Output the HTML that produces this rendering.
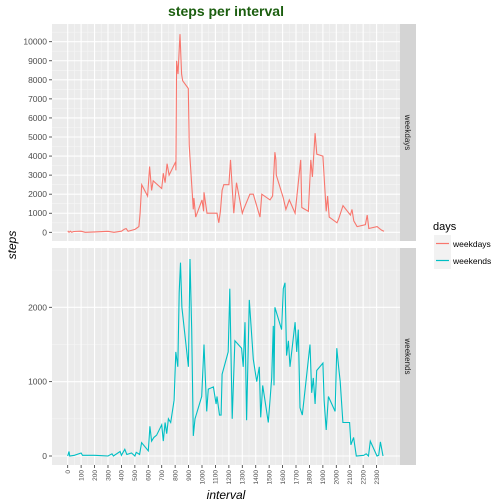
<!DOCTYPE html>
<html><head><meta charset="utf-8"><style>
body{margin:0;background:#fff;}
svg{display:block;font-family:"Liberation Sans",sans-serif;}
</style></head><body>
<svg id="c" width="504" height="504"></svg>
<script>
const wdIntervals=[0,10,20,30,45,100,130,200,300,345,400,420,435,450,500,510,530,539,551,595,610,625,637,700,712,725,740,755,804,806,811,821,836,848,856,898,905,911,935,940,953,1000,1012,1015,1037,1112,1125,1137,1150,1162,1200,1212,1237,1257,1300,1310,1357,1382,1432,1445,1506,1526,1543,1550,1553,1605,1625,1650,1693,1717,1735,1743,1792,1810,1822,1842,1855,1900,1925,1935,1947,2005,2017,2050,2105,2117,2130,2155,2217,2230,2242,2304,2330,2340,2355];
const wdSteps=[80,0,60,0,40,60,0,20,50,0,60,150,200,50,150,200,300,1000,2500,1900,3450,2200,2700,2300,3100,2600,3600,3000,3700,3250,9000,8300,10400,8300,7950,7550,4600,3900,1200,1800,800,1700,1100,2100,1000,1000,500,1100,2200,2500,2500,3800,1000,2600,1000,1200,2000,2000,800,2000,1700,1900,4200,3800,3000,1800,1200,1700,1000,2600,3800,1300,1100,3800,2900,5200,4100,4000,1100,1900,800,500,700,1400,900,1200,600,300,400,900,200,300,150,100,50];
const weIntervals=[0,10,15,50,100,110,200,300,330,340,390,400,425,440,475,500,510,535,550,600,612,625,642,662,700,712,725,737,750,767,792,805,820,830,840,850,899,911,923,935,948,998,1015,1035,1047,1085,1105,1112,1130,1142,1150,1195,1207,1225,1245,1295,1307,1320,1332,1352,1382,1407,1427,1437,1452,1494,1519,1531,1536,1543,1593,1605,1618,1630,1643,1655,1693,1705,1717,1730,1747,1804,1817,1829,1842,1854,1900,1909,1925,1941,1991,2004,2017,2029,2049,2099,2109,2129,2149,2204,2223,2240,2253,2303,2316,2328,2348];
const weSteps=[0,60,0,10,40,10,10,0,30,0,60,10,90,20,40,0,50,20,180,70,400,200,250,280,420,200,450,300,500,450,750,1400,1200,2200,2600,2000,1200,2650,1700,270,500,800,1500,600,900,930,700,800,550,550,1100,1400,2250,500,1550,1450,1200,1800,480,2100,1300,1000,1200,520,950,450,1050,1750,950,2000,1700,2250,2330,1350,1550,1200,1800,1400,1700,650,550,1500,850,1050,700,1150,1250,750,350,800,600,1450,1200,1000,450,450,150,250,0,10,30,0,200,0,10,190,0];
const yTicksTop=[0,1000,2000,3000,4000,5000,6000,7000,8000,9000,10000];
const yTicksBot=[0,1000,2000];
const xTicks=[0,100,200,300,400,500,600,700,800,900,1000,1100,1200,1300,1400,1500,1600,1700,1800,1900,2000,2100,2200,2300];

const NS="http://www.w3.org/2000/svg";
const svg=document.getElementById('c');
function el(t,a,p){const e=document.createElementNS(NS,t);for(const k in a)e.setAttribute(k,a[k]);(p||svg).appendChild(e);return e;}
const PL=52,PR=400;
const x=v=>67.7+v*0.1343;
const yTop=v=>232.3-v*0.01906;
const yBot=v=>456-v*0.07435;

function panel(top,bot,ticks,ys,minorStep,strip,name){
  const g=el('g',{});
  
  
  el('rect',{x:PL,y:top,width:PR-PL,height:bot-top,fill:'#EBEBEB'},g);
  for(let v=50;v<2600;v+=100){const px=x(v);if(px>PL&&px<PR)el('line',{x1:px,x2:px,y1:top,y2:bot,stroke:'#F5F5F5','stroke-width':0.6},g);}
  for(let v=-minorStep/2;v<=ticks[ticks.length-1]+minorStep;v+=minorStep){const py=ys(v);if(py>top&&py<bot)el('line',{x1:PL,x2:PR,y1:py,y2:py,stroke:'#F5F5F5','stroke-width':0.6},g);}
  xTicks.forEach(v=>el('line',{x1:x(v),x2:x(v),y1:top,y2:bot,stroke:'#fff','stroke-width':1.1},g));
  ticks.forEach(v=>{const py=ys(v);
    el('line',{x1:PL,x2:PR,y1:py,y2:py,stroke:'#fff','stroke-width':1.1},g);
    el('line',{x1:PL-3,x2:PL,y1:py,y2:py,stroke:'#333','stroke-width':0.8},g);
    const t=el('text',{x:PL-5,y:py+3,'text-anchor':'end','font-size':8.5,fill:'#4D4D4D'},g);t.textContent=v;
    
    
  });
  el('rect',{x:PR,y:top,width:16,height:bot-top,fill:'#D4D4D4'},g);
  const cy=(top+bot)/2;
  const st=el('text',{x:PR+8,y:cy,'text-anchor':'middle','font-size':8,fill:'#1A1A1A',transform:`rotate(90 ${PR+8} ${cy}) translate(0 3)`},g);
  st.textContent=strip;
  
  
}
panel(24,241,yTicksTop,yTop,1000,'weekdays','weekdays');
panel(248,465,yTicksBot,yBot,1000,'weekends','weekends');

function line(xs,vs,ys,col,name){
  const d=xs.map((v,i)=>(i?'L':'M')+x(v).toFixed(1)+','+ys(vs[i]).toFixed(1)).join('');
  const p=el('path',{d:d,fill:'none',stroke:col,'stroke-width':1.1});
  
  
}
line(wdIntervals,wdSteps,yTop,'#F8766D','weekdays-line');
line(weIntervals,weSteps,yBot,'#00BFC4','weekends-line');

xTicks.forEach(v=>{const px=x(v);
  el('line',{x1:px,x2:px,y1:465,y2:468,stroke:'#333','stroke-width':0.8});
  const t=el('text',{x:px,y:470,'text-anchor':'end','font-size':6.5,fill:'#4D4D4D',transform:`rotate(-90 ${px} 470) translate(0 2.3)`});
  t.textContent=v;
  
  
});

let t=el('text',{x:226,y:16,'text-anchor':'middle','font-size':14,'font-weight':'bold',fill:'#1B5E0F'});
t.textContent='steps per interval';


t=el('text',{x:226,y:499,'text-anchor':'middle','font-size':12,'font-style':'italic',fill:'#000'});
t.textContent='interval';


t=el('text',{x:16,y:245,'text-anchor':'middle','font-size':12,'font-style':'italic',fill:'#000',transform:'rotate(-90 16 245)'});
t.textContent='steps';



t=el('text',{x:433,y:230,'font-size':11,fill:'#000'});
t.textContent='days';


[['weekdays','#F8766D',235],['weekends','#00BFC4',252]].forEach(([n,c,yy])=>{
  const g=el('g',{});
  
  
  el('rect',{x:434,y:yy,width:17,height:17,fill:'#F2F2F2'},g);
  el('line',{x1:436,x2:449,y1:yy+8.5,y2:yy+8.5,stroke:c,'stroke-width':1.2},g);
  const tt=el('text',{x:453,y:yy+12,'font-size':8.5,fill:'#000'},g);tt.textContent=n;
});
</script>
</body></html>
